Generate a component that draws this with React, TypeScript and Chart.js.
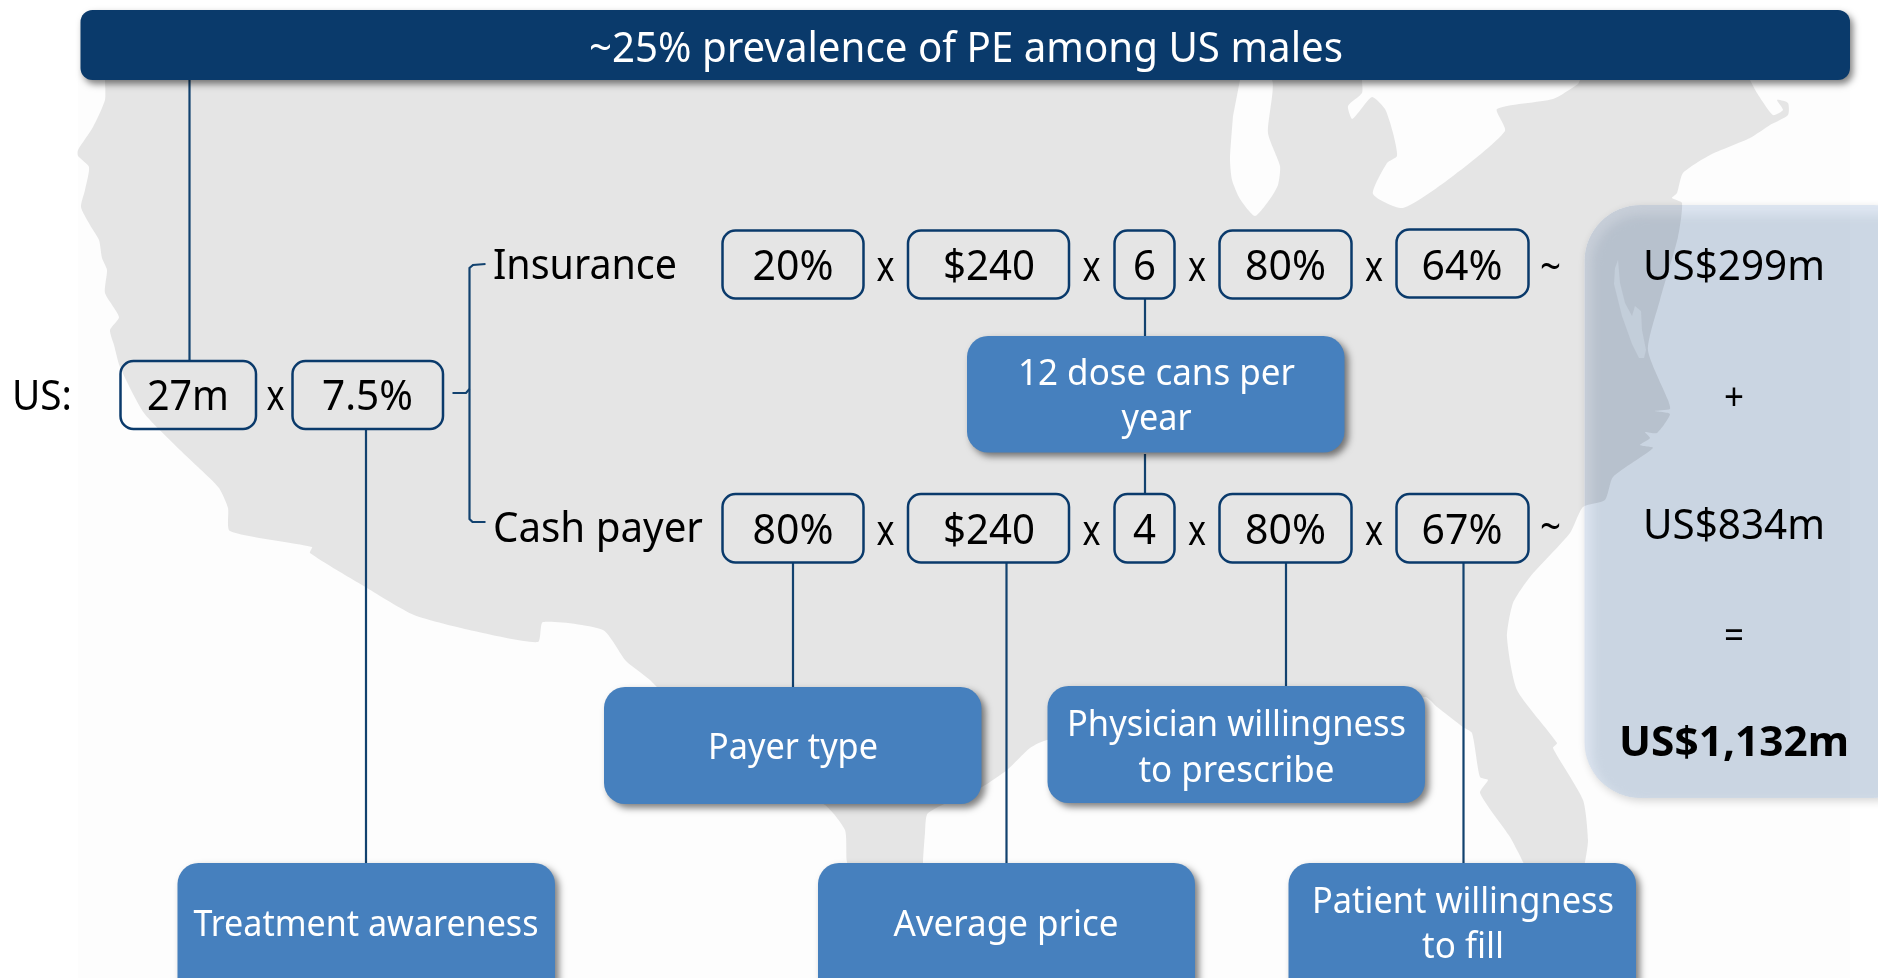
import React, { useEffect, useRef } from "react";
import { Chart, registerables } from "chart.js";

Chart.register(...registerables);

// ---------- content ----------
const headerText = "~25% prevalence of PE among US males";
const usLabel = "US:";
const usValues = ["27m", "7.5%"];
const payerLabels = ["Insurance", "Cash payer"];
const insuranceValues = ["20%", "$240", "6", "80%", "64%"];
const cashValues = ["80%", "$240", "4", "80%", "67%"];
const resultTexts = ["US$299m", "+", "US$834m", "=", "US$1,132m"];
const driverLabels = [
  ["12 dose cans per", "year"],
  ["Payer type"],
  ["Physician willingness", "to prescribe"],
  ["Treatment awareness"],
  ["Average price"],
  ["Patient willingness", "to fill"],
];

// ---------- layout, in scale units ----------
const valueColumns = [
  [722.5, 863.5],
  [908, 1069],
  [1114.5, 1174.5],
  [1219.5, 1351.5],
  [1396.5, 1528.5],
];
const valueCentres = [793, 989, 1144.5, 1285.5, 1462];
const timesXs = [885.5, 1091.5, 1197, 1374];
const driverBoxes = [
  [967, 336, 1344.5, 452.5],
  [604, 687, 981.5, 804],
  [1047.5, 686, 1425, 803],
  [177.5, 863, 555, 1000],
  [818, 863, 1195, 1000],
  [1288.5, 863, 1636, 1000],
];
const driverCentres = [1156.5, 793, 1236.5, 366, 1006, 1463];
const driverBaselines = [
  [385, 430],
  [759],
  [736, 782],
  [936],
  [936],
  [913, 958],
];
const driverWidths = [
  [277, 70],
  [170],
  [339, 196],
  [345],
  [225],
  [302, 82],
];

const connectors = [
  [[189.5, 80], [189.5, 360]],
  [[366, 429], [366, 864]],
  [[1145, 299], [1145, 336]],
  [[1145, 454], [1145, 494]],
  [[793, 563], [793, 687]],
  [[1006.5, 563], [1006.5, 863]],
  [[1286, 563], [1286, 686]],
  [[1463.5, 563], [1463.5, 863]],
  [[485.5, 264], [473, 265], [469.5, 268], [469.5, 519], [472.5, 522], [485.5, 522]],
  [[452.5, 393], [466, 393], [469.5, 389]],
];

const landOutline = [
  [105, 80], [105, 100], [93, 127], [78, 150], [78, 156], [89, 167], [85, 190], [81, 207], [90, 225],
  [99, 240], [102, 258], [107, 270], [105, 293], [119, 317], [110, 330], [114, 345], [120, 367],
  [144, 413], [180, 450], [198, 467], [219, 488], [228, 508], [230, 531], [312, 547], [310, 553],
  [367, 588], [414, 615], [474, 631], [538, 642], [543, 622], [603, 630], [626, 661], [650, 680],
  [690, 720], [825, 805], [845, 830], [847, 862], [860, 900], [923, 900], [923, 862], [925, 833],
  [928, 813], [982, 787], [1007, 770], [1030, 748], [1047, 740], [1425, 697], [1437, 707], [1463, 727],
  [1472, 733], [1480, 777], [1488, 780], [1480, 793], [1510, 837], [1523, 862], [1540, 900], [1575, 900],
  [1585, 862], [1588, 840], [1583, 800], [1553, 748], [1557, 743], [1517, 690], [1507, 637], [1513, 603],
  [1530, 577], [1570, 533], [1583, 507], [1605, 500], [1613, 477], [1653, 448], [1640, 445], [1650, 438],
  [1645, 432], [1657, 433], [1670, 414], [1655, 411], [1670, 409], [1668, 400],
  [1648, 350], [1660, 300], [1678, 237], [1682, 203], [1672, 198], [1677, 193], [1683, 173], [1710, 155],
  [1750, 138], [1770, 125], [1788, 115], [1788, 103], [1777, 100], [1783, 110], [1773, 115], [1757, 93],
  [1750, 80],
];
const lakeMichigan = [
  [1240, 80], [1272, 80], [1268, 133], [1280, 166], [1278, 185], [1270, 199], [1255, 216], [1240, 199],
  [1232, 180], [1230, 159], [1233, 116],
];
const lakesEast = [
  [1362, 80], [1362, 93], [1348, 106], [1352, 119], [1358, 113], [1372, 97], [1385, 109], [1393, 133],
  [1397, 156], [1387, 163], [1373, 194], [1403, 208], [1453, 176], [1505, 131], [1497, 109], [1553, 99],
  [1578, 84], [1580, 80],
];
const chesapeake = [
  [1618, 260], [1620, 283], [1625, 303], [1632, 316], [1635, 306], [1641, 311], [1642, 330], [1646, 350],
  [1644, 358], [1639, 358], [1632, 344], [1622, 316], [1614, 284], [1615, 268],
];

const toPoints = (list: number[][]) => list.map(([x, y]) => ({ x, y }));

const NAVY = "#0a3a6b";
const BLUE = "#4680be";
const OFFWHITE = "#fdfdfd";
const LAND = "#e5e5e5";
const FONT = '"Noto Sans"';

function drawText(
  ctx: CanvasRenderingContext2D,
  text: string,
  x: number,
  y: number,
  size: number,
  o: { align?: CanvasTextAlign; bold?: boolean; color?: string; width?: number } = {}
) {
  ctx.save();
  ctx.font = `${o.bold ? "700" : "400"} ${size}px ${FONT}`;
  ctx.fillStyle = o.color ?? "#000";
  ctx.textAlign = o.align ?? "center";
  ctx.textBaseline = "alphabetic";
  ctx.translate(x, y);
  if (o.width) ctx.scale(o.width / ctx.measureText(text).width, 1);
  ctx.fillText(text, 0, 0);
  ctx.restore();
}

const diagramPlugin = {
  id: "diagram",
  beforeDatasetsDraw(chart: any) {
    const { ctx, scales } = chart;
    const X = (v: number) => scales.x.getPixelForValue(v);
    const Y = (v: number) => scales.y.getPixelForValue(v);
    ctx.save();
    ctx.fillStyle = OFFWHITE;
    ctx.fillRect(X(78), Y(70), X(1850) - X(78), Y(978) - Y(70));
    ctx.restore();
  },
  afterDatasetsDraw(chart: any) {
    const { ctx, scales, width, height } = chart;
    const X = (v: number) => scales.x.getPixelForValue(v);
    const Y = (v: number) => scales.y.getPixelForValue(v);

    const rrect = (x0: number, y0: number, x1: number, y1: number, r: number) => {
      ctx.beginPath();
      ctx.roundRect(X(x0), Y(y0), X(x1) - X(x0), Y(y1) - Y(y0), r);
    };
    const panel = [1584.5, 205, 1930, 798];

    // soft drop shadow, outside the panel only
    ctx.save();
    const clipOut = new Path2D();
    clipOut.rect(0, 0, width, height);
    clipOut.roundRect(X(panel[0]), Y(panel[1]), X(panel[2]) - X(panel[0]), Y(panel[3]) - Y(panel[1]), 56);
    ctx.clip(clipOut, "evenodd");
    ctx.shadowColor = "rgba(0,0,0,0.16)";
    ctx.shadowBlur = 9;
    ctx.shadowOffsetX = 2;
    ctx.shadowOffsetY = 3;
    ctx.fillStyle = "#fff";
    rrect(panel[0], panel[1], panel[2], panel[3], 56);
    ctx.fill();
    ctx.restore();
    // edge tint and blurred inner tint, multiplied over the map
    ctx.save();
    ctx.globalCompositeOperation = "multiply";
    ctx.fillStyle = "#dee6f1";
    rrect(panel[0], panel[1], panel[2], panel[3], 56);
    ctx.fill();
    rrect(panel[0], panel[1], panel[2], panel[3], 56);
    ctx.clip();
    ctx.filter = "blur(5px)";
    ctx.fillStyle = "#ebeff2";
    rrect(panel[0] + 7.5, panel[1] + 10, 1950, 802, 50);
    ctx.fill();
    ctx.restore();

    // header
    ctx.save();
    ctx.shadowColor = "rgba(0,0,0,0.5)";
    ctx.shadowBlur = 7;
    ctx.shadowOffsetX = 3;
    ctx.shadowOffsetY = 4;
    ctx.fillStyle = NAVY;
    rrect(80.5, 10, 1850, 80, 12);
    ctx.fill();
    ctx.restore();
    drawText(ctx, headerText, X(966), Y(61.5), 41, { color: "#fff", width: 754 });

    // driver boxes
    driverBoxes.forEach((b, i) => {
      ctx.save();
      ctx.shadowColor = "rgba(0,0,0,0.5)";
      ctx.shadowBlur = 7;
      ctx.shadowOffsetX = 4;
      ctx.shadowOffsetY = 4;
      ctx.fillStyle = BLUE;
      rrect(b[0], b[1], b[2], b[3], 21);
      ctx.fill();
      ctx.restore();
      driverLabels[i].forEach((line, j) => {
        drawText(ctx, line, X(driverCentres[i]), Y(driverBaselines[i][j]), 36, {
          color: "#fff",
          width: driverWidths[i][j],
        });
      });
    });

    // value boxes
    const box = (x0: number, y0: number, x1: number, y1: number) => {
      ctx.save();
      ctx.strokeStyle = NAVY;
      ctx.lineWidth = 2.5;
      rrect(x0, y0, x1, y1, 13);
      ctx.stroke();
      ctx.restore();
    };
    box(120.5, 361, 256, 429);
    box(292.5, 361, 443, 429);
    drawText(ctx, usLabel, X(12), Y(410), 41, { align: "left", width: 60 });
    drawText(ctx, usValues[0], X(188), Y(410), 41, { width: 82 });
    drawText(ctx, usValues[1], X(367.5), Y(410), 41, { width: 91 });
    drawText(ctx, "x", X(275.5), Y(410), 41, { width: 18 });

    const rows = [
      { vals: insuranceValues, top: 230.5, bottom: 298.5, base: 280, label: payerLabels[0], labelBase: 279, labelW: 184, tilde: 281 },
      { vals: cashValues, top: 494, bottom: 562.5, base: 544, label: payerLabels[1], labelBase: 542, labelW: 210, tilde: 541 },
    ];
    rows.forEach((r) => {
      drawText(ctx, r.label, X(493), Y(r.labelBase), 41, { align: "left", width: r.labelW });
      r.vals.forEach((v, i) => {
        const [a, b] = valueColumns[i];
        const dy = r.top < 300 && i === 4 ? -1 : 0;
        box(a, r.top + dy, b, r.bottom + dy);
        const w = v.length === 1 ? 23 : v.length === 3 ? 81 : 92;
        drawText(ctx, v, X(valueCentres[i]), Y(r.base), 41, { width: w });
      });
      timesXs.forEach((x) => drawText(ctx, "x", X(x), Y(r.base + 1), 41, { width: 18 }));
      drawText(ctx, "~", X(1550.5), Y(r.tilde), 41, { width: 21 });
    });

    // results
    const cx = X(1734);
    drawText(ctx, resultTexts[0], cx, Y(280), 41, { width: 182 });
    drawText(ctx, resultTexts[1], cx, Y(410), 38, { width: 20 });
    drawText(ctx, resultTexts[2], cx, Y(539), 41, { width: 182 });
    drawText(ctx, resultTexts[3], cx, Y(648), 38, { width: 20 });
    drawText(ctx, resultTexts[4], cx, Y(756), 41, { bold: true, width: 230 });
  },
};

export default function App() {
  const ref = useRef<HTMLCanvasElement>(null);
  useEffect(() => {
    const fillSet = (list: number[][], color: string, order: number, tension: number) => ({
      data: toPoints(list),
      showLine: true,
      fill: "shape",
      backgroundColor: color,
      borderWidth: 0,
      borderColor: color,
      pointRadius: 0,
      tension,
      order,
    });
    const chart = new Chart(ref.current!, {
      type: "scatter",
      data: {
        datasets: [
          fillSet(landOutline, LAND, 40, 0.2),
          fillSet(lakeMichigan, OFFWHITE, 30, 0.2),
          fillSet(lakesEast, OFFWHITE, 29, 0.2),
          fillSet(chesapeake, "#f4f4f4", 28, 0),
          ...connectors.map((c) => ({
            data: toPoints(c),
            showLine: true,
            fill: false,
            borderColor: "#12426f",
            borderWidth: 2.2,
            pointRadius: 0,
            order: 10,
          })),
        ] as any,
      },
      options: {
        animation: false,
        responsive: false,
        layout: { padding: 0 },
        plugins: { legend: { display: false }, tooltip: { enabled: false }, title: { display: false } },
        events: [],
        scales: {
          x: { type: "linear", min: 0, max: 1878, display: false },
          y: { type: "linear", min: 0, max: 978, reverse: true, display: false },
        },
      },
      plugins: [diagramPlugin],
    } as any);
    return () => chart.destroy();
  }, []);
  return (
    <div style={{ position: "fixed", left: 0, top: 0, width: 1878, height: 978, background: "#fff", overflow: "hidden" }}>
      <canvas ref={ref} width={1878} height={978} style={{ display: "block", width: 1878, height: 978 }} />
    </div>
  );
}
